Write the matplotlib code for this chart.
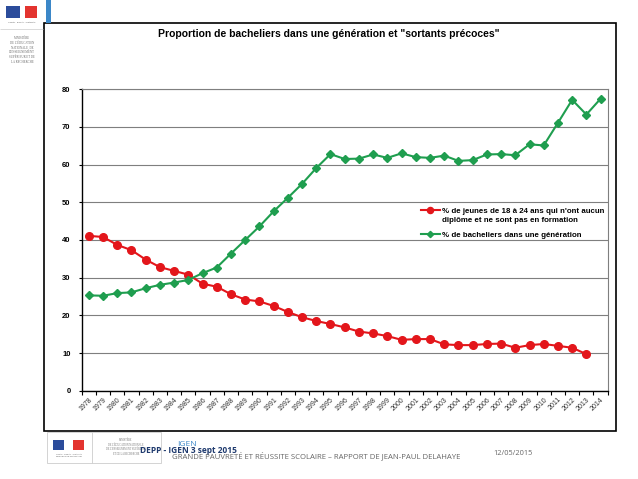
import numpy as np
import matplotlib
matplotlib.use('Agg')
import matplotlib.pyplot as plt
from matplotlib.patches import Rectangle
from matplotlib.ticker import FixedLocator

# data
years = list(range(1978, 2015))
sortants = [41.1, 40.8, 38.7, 37.3, 34.8, 32.8, 31.8, 30.8,
            28.4, 27.6, 25.6, 24.2, 23.7, 22.5, 20.9, 19.5, 18.5, 17.7,
            16.8, 15.7, 15.2, 14.5, 13.5, 13.7, 13.7, 12.3, 12.1, 12.1,
            12.4, 12.5, 11.4, 12.1, 12.4, 11.9, 11.4, 9.7]
bacheliers = [25.3, 25.2, 25.9, 26.1, 27.2, 28.1, 28.7, 29.4,
              31.2, 32.7, 36.4, 40.0, 43.6, 47.6, 51.2, 54.9, 59.1, 62.8,
              61.5, 61.6, 62.7, 61.8, 63.0, 62.0, 61.8, 62.4, 61.0, 61.2,
              62.7, 62.8, 62.5, 65.4, 65.1, 71.1, 77.2, 73.3, 77.5]
label_sortants = ["% de jeunes de 18 à 24 ans qui n'ont aucun",
                  "diplôme et ne sont pas en formation"]
label_bac = "% de bacheliers dans une génération"
title = 'Proportion de bacheliers dans une génération et "sortants précoces"'

W, H = 638, 479
plt.rcParams['font.family'] = ['Liberation Sans', 'DejaVu Sans']


def fx(x):
    return x / W


def fy(y):
    return 1 - y / H


fig = plt.figure(figsize=(W / 100, H / 100), dpi=100)
fig.patch.set_facecolor('white')

# chart frame of the slide
fig.add_artist(Rectangle((fx(43.5), fy(430.5)), fx(615.7) - fx(43.5), fy(23) - fy(430.5),
                         fill=False, edgecolor='black', linewidth=1.2))

ax = fig.add_axes([fx(81.7), fy(390.7), fx(607.7) - fx(81.7), fy(89.3) - fy(390.7)])
x = np.arange(len(years))
ax.plot(x[:len(sortants)], sortants, color='#e3161b', lw=1.5, marker='o', ms=5.5,
        label=label_sortants[0], zorder=3)
ax.plot(x, bacheliers, color='#1f9e4f', lw=1.5, marker='D', ms=4,
        label=label_bac, zorder=3)

ax.set_xlim(-0.5, len(years) - 0.5)
ax.set_ylim(0, 80)
ax.set_yticks(range(0, 81, 10))
ax.yaxis.grid(True, color='#7f7f7f', lw=0.8)
ax.set_axisbelow(True)
ax.tick_params(axis='y', length=2, pad=6, labelsize=5.5)
for t in ax.get_yticklabels():
    t.set_fontweight('bold')

ax.xaxis.set_major_locator(FixedLocator(np.arange(len(years) + 1) - 0.5))
ax.xaxis.set_minor_locator(FixedLocator(x))
ax.set_xticklabels([])
ax.set_xticklabels([str(y) for y in years], minor=True)
ax.tick_params(axis='x', which='major', length=3, direction='out')
ax.tick_params(axis='x', which='minor', length=0, pad=4, labelsize=5, labelcolor='#333333')
for t in ax.get_xticklabels(minor=True):
    t.set_rotation(45)
    t.set_ha('right')
    t.set_va('top')
    t.set_rotation_mode('anchor')

for s in ['top', 'right']:
    ax.spines[s].set_color('#7f7f7f')
    ax.spines[s].set_linewidth(0.8)
for s in ['left', 'bottom']:
    ax.spines[s].set_color('black')
    ax.spines[s].set_linewidth(1)

leg = ax.legend(loc='upper left', bbox_to_anchor=(fx(421), fy(207)),
                bbox_transform=fig.transFigure, frameon=False,
                prop={'size': 5.7, 'weight': 'bold'}, handlelength=2.4, markerscale=0.8,
                handletextpad=0.2, labelspacing=2.1, borderpad=0, borderaxespad=0)
# second line of the first legend label
fig.text(fx(442.5), fy(220.5), label_sortants[1], fontsize=5.7, fontweight='bold',
         ha='left', va='center')

fig.text(fx(329), fy(34), title, ha='center', va='center', fontsize=7.5, fontweight='bold')

# top-left ministry logo
fig.add_artist(Rectangle((fx(6), fy(18)), fx(20) - fx(6), fy(6) - fy(18), color='#2b4c9b', lw=0))
fig.add_artist(Rectangle((fx(25), fy(18)), fx(37) - fx(25), fy(6) - fy(18), color='#e3342f', lw=0))
fig.text(fx(21.5), fy(22), 'Liberté · Égalité · Fraternité', fontsize=1.6, color='#666666', ha='center', va='center')
fig.text(fx(22), fy(50), "MINISTÈRE\nDE L'ÉDUCATION\nNATIONALE, DE\nL'ENSEIGNEMENT\nSUPÉRIEUR ET DE\nLA RECHERCHE",
         fontsize=2.2, color='#666666', ha='center', va='center', family='Liberation Serif', linespacing=1.3)
fig.add_artist(Rectangle((fx(0), fy(29)), fx(43) - fx(0), 0.0001, color='#cccccc', lw=0.5))
fig.add_artist(Rectangle((fx(46), fy(23)), fx(51) - fx(46), fy(0) - fy(23), color='#3b87c8', lw=0))

# footer logo
fig.add_artist(Rectangle((fx(46.7), fy(462.7)), fx(160.7) - fx(46.7), fy(432) - fy(462.7),
                         fill=False, edgecolor='#cccccc', lw=0.6))
fig.add_artist(Rectangle((fx(91.7), fy(462.7)), 0.0001, fy(432) - fy(462.7), color='#cccccc', lw=0.6))
fig.add_artist(Rectangle((fx(53), fy(450)), fx(64) - fx(53), fy(440) - fy(450), color='#2b4c9b', lw=0))
fig.add_artist(Rectangle((fx(73), fy(450)), fx(84) - fx(73), fy(440) - fy(450), color='#e3342f', lw=0))
fig.text(fx(69), fy(455), 'Liberté · Égalité · Fraternité\nRÉPUBLIQUE FRANÇAISE', fontsize=1.5,
         color='#666666', ha='center', va='center')
fig.text(fx(126), fy(447), "MINISTÈRE\nDE L'ÉDUCATION NATIONALE\nDE L'ENSEIGNEMENT SUPÉRIEUR\nET DE LA RECHERCHE",
         fontsize=1.9, color='#777777', ha='center', va='center', family='Liberation Serif', linespacing=1.3)

fig.text(fx(177), fy(444), 'IGEN', fontsize=6, color='#3b87c8', ha='left', va='center', family='Open Sans')
fig.text(fx(140.5), fy(450.5), 'DEPP - IGEN 3 sept 2015', fontsize=6, color='#1f3a6e', fontweight='bold',
         ha='left', va='center', family='Open Sans')
fig.text(fx(172), fy(455.5), 'GRANDE PAUVRETÉ ET RÉUSSITE SCOLAIRE – RAPPORT DE JEAN-PAUL DELAHAYE',
         fontsize=5.55, color='#666666', ha='left', va='center', family='Open Sans')
fig.text(fx(493), fy(453.5), '12/05/2015', fontsize=5.3, color='#666666', ha='left', va='center', family='Open Sans')

fig.savefig('out.png', dpi=100, facecolor='white')
